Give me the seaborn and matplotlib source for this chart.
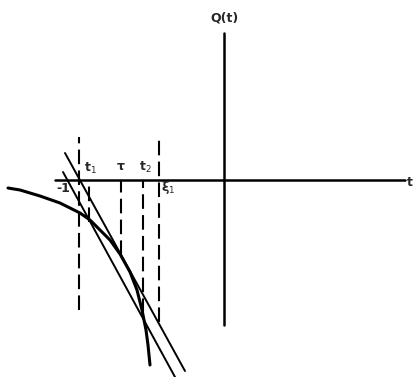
import numpy as np
import pandas as pd
import matplotlib
matplotlib.use("Agg")
import matplotlib.pyplot as plt
import seaborn as sns

# -----------------------------
# Values (t to the right, Q(t) upwards)
# -----------------------------
curve_t = [-216, -204, -184, -164, -144, -134, -124, -114, -104, -94, -87, -82, -78, -76, -74]
curve_q = [-8, -10, -16, -23, -33, -40, -50, -60, -74, -92, -110, -130, -150, -165, -185]

tangent_t = [-159, -39]
tangent_q = [27, -191]

secant_t = [-161, -49]
secant_q = [8, -197]

t_axis = [-169, 181]
q_axis = [147, -145]

# dashed markers: position, top, bottom
mark_t = [-145, -135, -103, -81, -65]
mark_top = [43, -6, 0, 0, 44]
mark_bottom = [-130, -42, -75, -133, -142]

labels = ["-1", "t$_1$", "τ", "t$_2$", "ξ$_1$", "Q(t)", "t"]
label_t = [-161, -134, -103, -79, -56, 1, 186]
label_q = [-8, 12, 13, 13, -8, 162, -2]

# -----------------------------
# Plot
# -----------------------------
sns.set_style("white")
fig = plt.figure(figsize=(4.14, 3.77), dpi=100)
ax = fig.add_axes([0, 0, 1, 1])

# axes of the sketch
ax.plot(t_axis, [0, 0], color="black", lw=1.8)
ax.plot([0, 0], q_axis, color="black", lw=1.8)

# Q(t) curve
sns.lineplot(x=curve_t, y=curve_q, sort=False, color="black", lw=2.2, ax=ax)

# tangent and secant lines
sns.lineplot(x=tangent_t, y=tangent_q, sort=False, color="black", lw=1.4, ax=ax)
sns.lineplot(x=secant_t, y=secant_q, sort=False, color="black", lw=1.4, ax=ax)

# dashed verticals
ax.vlines(mark_t, mark_bottom, mark_top, colors="black", lw=1.5,
          linestyles=(0, (7, 3)))

for s, x, y in zip(labels, label_t, label_q):
    ax.text(x, y, s, ha="center", va="center", fontsize=9, fontweight="bold")

ax.set_xlim(-224, 190)
ax.set_ylim(-197, 180)
ax.axis("off")

plt.savefig("out.png", dpi=100)
